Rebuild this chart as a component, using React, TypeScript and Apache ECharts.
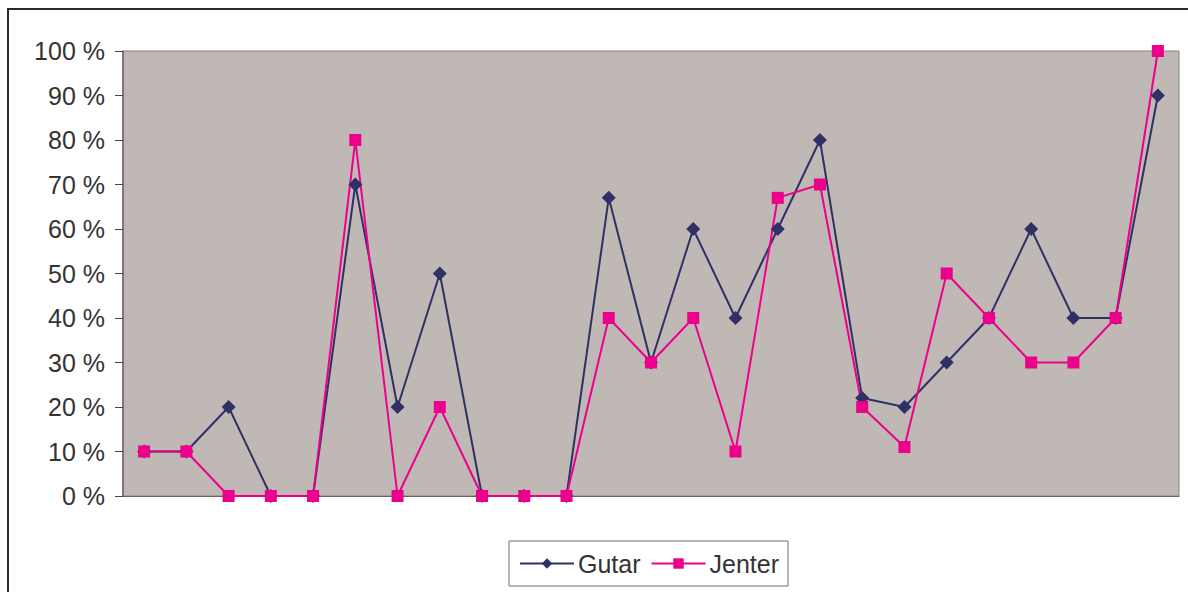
import React, { useEffect, useRef } from "react";
import * as echarts from "echarts";

// Share per question, in percent
const categories = Array.from({ length: 25 }, (_, i) => `Q${i + 1}`);
const gutar = [10, 10, 20, 0, 0, 70, 20, 50, 0, 0, 0, 67, 30, 60, 40, 60, 80, 22, 20, 30, 40, 60, 40, 40, 90];
const jenter = [10, 10, 0, 0, 0, 80, 0, 20, 0, 0, 0, 40, 30, 40, 10, 67, 70, 20, 11, 50, 40, 30, 30, 40, 100];

const FONT = "Liberation Sans, Arial, sans-serif";
const NAVY = "#2f3066";
const PINK = "#ec008c";

export default function App() {
  const ref = useRef<HTMLDivElement>(null);

  useEffect(() => {
    const chart = echarts.init(ref.current!, undefined, { renderer: "svg" });
    chart.setOption({
      animation: false,
      backgroundColor: "#ffffff",
      textStyle: { fontFamily: FONT },
      graphic: [
        {
          type: "rect",
          shape: { x: 8, y: 9, width: 1400, height: 800 },
          style: { fill: "none", stroke: "#2b2b2b", lineWidth: 2 },
          silent: true,
        },
      ],
      grid: {
        left: 123,
        top: 51,
        right: 9,
        bottom: 96,
        show: true,
        backgroundColor: "#c0b8b5",
        borderColor: "#8c827f",
        borderWidth: 1,
      },
      legend: {
        left: 509,
        top: 541,
        padding: [10, 9, 10, 10],
        itemGap: 10,
        itemWidth: 54,
        itemHeight: 13,
        borderColor: "#6e6e6e",
        borderWidth: 1,
        backgroundColor: "#ffffff",
        textStyle: { fontSize: 25, color: "#333333", fontFamily: FONT, padding: [0, 0, 0, -1] },
        data: ["Gutar", "Jenter"],
      },
      xAxis: {
        type: "category",
        data: categories,
        boundaryGap: true,
        axisLine: { show: true, lineStyle: { color: "#6b6262", width: 1 } },
        axisTick: { show: false },
        axisLabel: { show: false },
        splitLine: { show: false },
      },
      yAxis: {
        type: "value",
        min: 0,
        max: 100,
        interval: 10,
        axisLine: { show: true, lineStyle: { color: "#6b6262", width: 1.5 } },
        axisTick: { show: true, length: 8, lineStyle: { color: "#444444" } },
        axisLabel: {
          margin: 18,
          fontSize: 25,
          color: "#333333",
          fontFamily: FONT,
          formatter: (v: number) => `${v} %`,
        },
        splitLine: { show: false },
      },
      series: [
        {
          name: "Gutar",
          type: "line",
          data: gutar,
          symbol: "diamond",
          symbolSize: 14,
          lineStyle: { color: NAVY, width: 2 },
          itemStyle: { color: NAVY },
        },
        {
          name: "Jenter",
          type: "line",
          data: jenter,
          symbol: "rect",
          symbolSize: 12,
          lineStyle: { color: PINK, width: 2 },
          itemStyle: { color: PINK },
        },
      ],
    });
    return () => chart.dispose();
  }, []);

  return (
    <div
      ref={ref}
      style={{ position: "fixed", left: 0, top: 0, width: 1188, height: 592 }}
    />
  );
}
